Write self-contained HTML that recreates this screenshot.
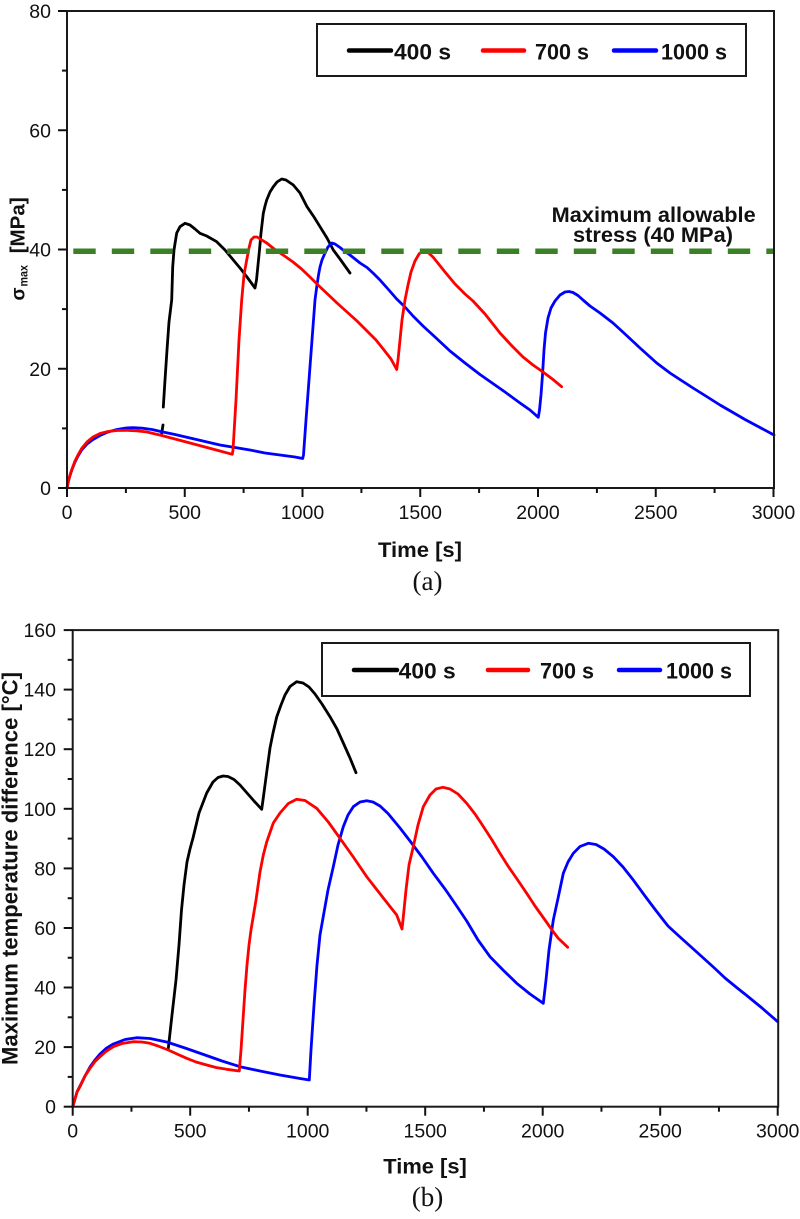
<!DOCTYPE html>
<html>
<head>
<meta charset="utf-8">
<style>
  html, body { margin: 0; padding: 0; background: #fff; }
  svg { display: block; }
  text { font-family: "Liberation Sans", Arial, sans-serif; fill: #111; }
  .tick { font-size: 19.5px; }
  .b { font-weight: bold; }
  .ser { font-family: "Liberation Serif", "Times New Roman", serif; }
</style>
</head>
<body>
<svg width="800" height="1219" viewBox="0 0 800 1219" xmlns="http://www.w3.org/2000/svg">
  <rect x="0" y="0" width="800" height="1219" fill="#fff"/>

  <!-- ================= TOP CHART (a) ================= -->
  <g fill="none" stroke-linejoin="round" stroke-linecap="round" stroke-width="2.8">
    <!-- black 400 s -->
    <polyline stroke="#000" points="161.7,433.3 163,425"/>
    <polyline stroke="#000" points="163.3,407 165,380 167,350 169,322 171.7,300 172.7,267 174,250 176.7,233 180,226.7 185,223.3 190,225 195,229 200,233.3 206.7,236 216.7,241.7 225,250 233.3,260 240,268 247,277 255,288 256.5,280 258,265 259.5,250 261,233 263.3,213.3 265,206 266.7,200 270,192 273.3,186.7 277,182 281.7,179 286,180 293.3,185 300,193 307,206.7 314,217 320,226.7 327,238 333.3,250 340,259 345,266 350,273"/>
    <!-- blue 1000 s -->
    <polyline stroke="#0000ff" points="67,488 68.5,481 70,475.5 72,469.5 75,462 78,456 82,449.5 87,444 93,439.5 100,435.5 108,432 117,429.5 126,428 133,427.7 142,428.2 152,429.5 161.7,431.7 175,434.5 190,438 205,441.5 220,445 232,447 250,450 265,453 280,455 295,457 302.7,458.5 303.5,455 306,420 309,380 312,340 315,300 316.7,287 318.5,275 320,267 322,260 325,253 328,247 331.7,243 335,244 340,247.5 345,251.5 350,255 355,259 360,263 367,267.5 373,273 380,280 388,289 396.7,299 405,307 413,316 423,326 435,337 450,351 465,363 480,374.5 490,381.5 505,392 520,403 530,410 538.3,417.3 539.5,410 541,395 542.5,375 544,350 545.5,333 548,318 551,308 555,301 560,295 565,292 569,291.5 573,292.5 578,295.5 583,300 590,306 600,313 613,323 625,334 640,348 656.7,363 670,373 683,381.5 693,388 705,395.5 720,405 733,412.5 745,419.5 760,427.5 774,435"/>
    <!-- red 700 s -->
    <polyline stroke="#ff0000" points="67,488 68.5,481 70,475 72,469 75,461 78,455 82,448 87,442 93,437 100,433.5 108,431.5 117,430.5 127,430.3 137,430.8 147,432 161.7,435.5 175,439 190,443 205,447 220,451 232.3,454.3 233,450 236,400 239,340 241.7,300 244,275 246.7,260 249,248 251,240 254,237 257,237 261,239.5 266.7,243 273,248 280,253 286,257 293,262 301,268.5 310,277 318,285 327,293.5 337,303 347,312 357,321 367,331 376,340 384,350 391,359 396.7,369.5 398,360 400,340 402,320 405,300 408,285 411,272 415,261 419,254 423,251 428,252.5 433,257 437,262 445,272 455,284 465,294 473,301 485,314 500,333 512,346 523,357 533,365 543,372 553,379.5 561.6,386.7"/>
  </g>

  <!-- allowable stress line -->
  <line x1="73.3" y1="251.3" x2="774" y2="251.3" stroke="#3a8024" stroke-width="5.5" stroke-dasharray="22.4 16.1"/>
  <text class="b" x="551.7" y="222" font-size="21" textLength="204" lengthAdjust="spacingAndGlyphs">Maximum allowable</text>
  <text class="b" x="573" y="242" font-size="21" textLength="160" lengthAdjust="spacingAndGlyphs">stress (40 MPa)</text>

  <!-- frame -->
  <rect x="67" y="11" width="707" height="477" fill="none" stroke="#1a1a1a" stroke-width="2"/>
  <g stroke="#111" stroke-width="2">
    <line x1="58" y1="488" x2="67" y2="488"/>
    <line x1="58" y1="368.75" x2="67" y2="368.75"/>
    <line x1="58" y1="249.5" x2="67" y2="249.5"/>
    <line x1="58" y1="130.25" x2="67" y2="130.25"/>
    <line x1="58" y1="11" x2="67" y2="11"/>
    <line x1="62" y1="428.4" x2="67" y2="428.4"/>
    <line x1="62" y1="309.1" x2="67" y2="309.1"/>
    <line x1="62" y1="189.9" x2="67" y2="189.9"/>
    <line x1="62" y1="70.6" x2="67" y2="70.6"/>
    <line x1="67" y1="488" x2="67" y2="497"/>
    <line x1="184.75" y1="488" x2="184.75" y2="497"/>
    <line x1="302.5" y1="488" x2="302.5" y2="497"/>
    <line x1="420.25" y1="488" x2="420.25" y2="497"/>
    <line x1="538" y1="488" x2="538" y2="497"/>
    <line x1="655.75" y1="488" x2="655.75" y2="497"/>
    <line x1="773.5" y1="488" x2="773.5" y2="497"/>
    <line x1="125.9" y1="488" x2="125.9" y2="493"/>
    <line x1="243.6" y1="488" x2="243.6" y2="493"/>
    <line x1="361.4" y1="488" x2="361.4" y2="493"/>
    <line x1="479.1" y1="488" x2="479.1" y2="493"/>
    <line x1="596.9" y1="488" x2="596.9" y2="493"/>
    <line x1="714.6" y1="488" x2="714.6" y2="493"/>
  </g>
  <g class="tick" text-anchor="end">
    <text x="51" y="495">0</text>
    <text x="51" y="375.75">20</text>
    <text x="51" y="256.5">40</text>
    <text x="51" y="137.25">60</text>
    <text x="51" y="18">80</text>
  </g>
  <g class="tick" text-anchor="middle">
    <text x="67" y="519">0</text>
    <text x="184.75" y="519">500</text>
    <text x="302.5" y="519">1000</text>
    <text x="420.25" y="519">1500</text>
    <text x="538" y="519">2000</text>
    <text x="655.75" y="519">2500</text>
    <text x="773.5" y="519">3000</text>
  </g>
  <text class="b" x="378" y="557" font-size="21.5" textLength="84" lengthAdjust="spacingAndGlyphs">Time [s]</text>
  <text class="b" font-size="19" transform="translate(24.5,300.5) rotate(-90)">σ</text>
  <text class="b" font-size="11.5" textLength="21.5" lengthAdjust="spacingAndGlyphs" transform="translate(27.5,286.5) rotate(-90)">max</text>
  <text class="b" font-size="20.5" textLength="56" lengthAdjust="spacingAndGlyphs" transform="translate(24.5,253.3) rotate(-90)">[MPa]</text>

  <!-- legend top -->
  <rect x="317" y="24" width="429" height="52" fill="#fff" stroke="#1a1a1a" stroke-width="2"/>
  <g stroke-width="4.5" stroke-linecap="round">
    <line x1="349" y1="50.5" x2="391" y2="50.5" stroke="#000"/>
    <line x1="483" y1="50.5" x2="524" y2="50.5" stroke="#ff0000"/>
    <line x1="614" y1="50.5" x2="656" y2="50.5" stroke="#0000ff"/>
  </g>
  <g class="b" font-size="22">
    <text x="394" y="59.3" textLength="57" lengthAdjust="spacingAndGlyphs">400 s</text>
    <text x="535" y="59.3" textLength="54" lengthAdjust="spacingAndGlyphs">700 s</text>
    <text x="661" y="59.3" textLength="66" lengthAdjust="spacingAndGlyphs">1000 s</text>
  </g>

  <text class="ser" x="427.5" y="590" font-size="27" text-anchor="middle">(a)</text>

  <!-- ================= BOTTOM CHART (b) ================= -->
  <g fill="none" stroke-linejoin="round" stroke-linecap="round" stroke-width="2.8">
    <polyline stroke="#000" points="168.3,1048.3 172,1015 176,980 179,945 181.5,910 184,885 187,862 190,849 193,838 199,813 206.7,793 213,782 218,777.5 223,776 228,776.5 234,779.5 240,785 247,793 254,801 261.7,809.3 263,800 265,785 267,770 270,748 273,733 276.7,717 281,705 285,695 290,686.5 296.7,681.7 303,683 309,687 315,694 322,704 330,716.7 337,729 343.3,743 350,758 356,772.7"/>
    <polyline stroke="#0000ff" points="72.7,1106.7 75,1099 77,1092 80,1086 85,1076 90,1067 95,1060 100,1054 106,1048.5 113.3,1044 125,1039.5 136.7,1037.7 150,1038.5 166.7,1042 185,1048 205,1055 222,1061 240,1066.7 260,1071 280,1075 300,1078.5 309.3,1080 311,1050 314,1005 317,965 320,935 323,918 328,890 333.3,866.7 338,845 343.3,826.7 348,815 353.3,806.7 360,802 366.7,800.7 373,802 380,806 388,813.5 400,828 410,841 422,857 433.3,873.3 445,889 456,905 466.7,921 478,940 490,956.7 503,970 516.7,983.3 530,994 543.3,1003.3 546,980 549,950 553.3,920 558.3,897 563.3,873.3 568,862 573.3,853.3 580,846.5 588.3,843.3 596,844.5 604,849 613.3,856.7 623,867 633.3,880 645,896 654,908 661.7,918 668,926 676.7,934 690,946 700,955 713.3,967 725,978 736,987 746.7,995.5 762,1008 777.7,1021.7"/>
    <polyline stroke="#ff0000" points="72.7,1106.7 75,1099 77,1092 80,1086.7 85,1076 90,1068.3 95,1061.5 100,1056.7 106,1051.5 113.3,1046.7 122,1043.5 133.3,1041.7 142,1042 150,1043.3 158,1046 168.3,1050 177,1054 186.7,1058.3 196,1062 206.7,1065 216,1067.5 226.7,1069.3 239.3,1071 241,1050 243,1020 245,990 247,965 249,945 251,930 253,918 256,900 260,872 263.3,855 266.7,842 273.3,823 280,813 288.3,803.5 296.7,799.3 305,800.5 316.7,808.3 328.3,822 340,838.3 353.3,857 366.7,876.7 383.3,898 396.7,915 402,929 403,920 406,890 409,865 413.3,846.7 418,825 423.3,806.7 430,795 436,789 442.7,787.3 450,789 458,794 466.7,803.3 475,814 483,826 492,840 500,853.3 508,866 517,879 526.7,893.3 535,906 545,920 552,930 558,938 567.7,947.3"/>
  </g>

  <rect x="72.7" y="630.1" width="705.5" height="476.6" fill="none" stroke="#1a1a1a" stroke-width="2"/>
  <g stroke="#111" stroke-width="2">
    <line x1="63.7" y1="1106.7" x2="72.7" y2="1106.7"/>
    <line x1="63.7" y1="1047.1" x2="72.7" y2="1047.1"/>
    <line x1="63.7" y1="987.5" x2="72.7" y2="987.5"/>
    <line x1="63.7" y1="928" x2="72.7" y2="928"/>
    <line x1="63.7" y1="868.4" x2="72.7" y2="868.4"/>
    <line x1="63.7" y1="808.8" x2="72.7" y2="808.8"/>
    <line x1="63.7" y1="749.2" x2="72.7" y2="749.2"/>
    <line x1="63.7" y1="689.6" x2="72.7" y2="689.6"/>
    <line x1="63.7" y1="630.1" x2="72.7" y2="630.1"/>
    <line x1="67.7" y1="1076.9" x2="72.7" y2="1076.9"/>
    <line x1="67.7" y1="1017.3" x2="72.7" y2="1017.3"/>
    <line x1="67.7" y1="957.75" x2="72.7" y2="957.75"/>
    <line x1="67.7" y1="898.2" x2="72.7" y2="898.2"/>
    <line x1="67.7" y1="838.6" x2="72.7" y2="838.6"/>
    <line x1="67.7" y1="779" x2="72.7" y2="779"/>
    <line x1="67.7" y1="719.4" x2="72.7" y2="719.4"/>
    <line x1="67.7" y1="659.85" x2="72.7" y2="659.85"/>
    <line x1="72.7" y1="1106.7" x2="72.7" y2="1115.7"/>
    <line x1="190.2" y1="1106.7" x2="190.2" y2="1115.7"/>
    <line x1="307.7" y1="1106.7" x2="307.7" y2="1115.7"/>
    <line x1="425.2" y1="1106.7" x2="425.2" y2="1115.7"/>
    <line x1="542.7" y1="1106.7" x2="542.7" y2="1115.7"/>
    <line x1="660.2" y1="1106.7" x2="660.2" y2="1115.7"/>
    <line x1="777.7" y1="1106.7" x2="777.7" y2="1115.7"/>
    <line x1="131.45" y1="1106.7" x2="131.45" y2="1111.7"/>
    <line x1="248.95" y1="1106.7" x2="248.95" y2="1111.7"/>
    <line x1="366.45" y1="1106.7" x2="366.45" y2="1111.7"/>
    <line x1="483.95" y1="1106.7" x2="483.95" y2="1111.7"/>
    <line x1="601.45" y1="1106.7" x2="601.45" y2="1111.7"/>
    <line x1="718.95" y1="1106.7" x2="718.95" y2="1111.7"/>
  </g>
  <g class="tick" text-anchor="end">
    <text x="56" y="1113.7">0</text>
    <text x="56" y="1054.1">20</text>
    <text x="56" y="994.5">40</text>
    <text x="56" y="935">60</text>
    <text x="56" y="875.4">80</text>
    <text x="56" y="815.8">100</text>
    <text x="56" y="756.2">120</text>
    <text x="56" y="696.6">140</text>
    <text x="56" y="637.1">160</text>
  </g>
  <g class="tick" text-anchor="middle">
    <text x="72.7" y="1137.5">0</text>
    <text x="190.2" y="1137.5">500</text>
    <text x="307.7" y="1137.5">1000</text>
    <text x="425.2" y="1137.5">1500</text>
    <text x="542.7" y="1137.5">2000</text>
    <text x="660.2" y="1137.5">2500</text>
    <text x="777.7" y="1137.5">3000</text>
  </g>
  <text class="b" x="383.3" y="1173.5" font-size="21.5" textLength="83.5" lengthAdjust="spacingAndGlyphs">Time [s]</text>
  <text class="b" font-size="22" textLength="393" lengthAdjust="spacingAndGlyphs" transform="translate(17.5,1065) rotate(-90)">Maximum temperature difference [°C]</text>

  <rect x="322" y="643" width="428" height="53" fill="#fff" stroke="#1a1a1a" stroke-width="2"/>
  <g stroke-width="4.5" stroke-linecap="round">
    <line x1="354" y1="670" x2="397" y2="670" stroke="#000"/>
    <line x1="488" y1="670" x2="528" y2="670" stroke="#ff0000"/>
    <line x1="619" y1="670" x2="660" y2="670" stroke="#0000ff"/>
  </g>
  <g class="b" font-size="22">
    <text x="398.7" y="678.3" textLength="57" lengthAdjust="spacingAndGlyphs">400 s</text>
    <text x="540" y="678.3" textLength="54" lengthAdjust="spacingAndGlyphs">700 s</text>
    <text x="666" y="678.3" textLength="66" lengthAdjust="spacingAndGlyphs">1000 s</text>
  </g>

  <text class="ser" x="427.5" y="1206" font-size="27" text-anchor="middle">(b)</text>
</svg>
</body>
</html>
